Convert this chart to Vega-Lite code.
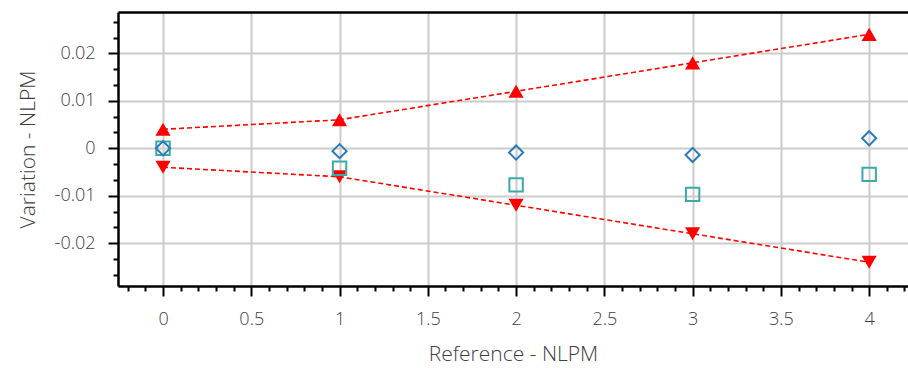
{
  "$schema": "https://vega.github.io/schema/vega-lite/v6.json",
  "width": 790,
  "height": 274,
  "autosize": {"type": "none"},
  "padding": {"left": 118, "top": 12, "right": 0, "bottom": 82},
  "config": {
    "view": {"stroke": null},
    "font": "Open Sans",
    "axis": {
      "labelFont": "Open Sans",
      "titleFont": "Open Sans",
      "labelColor": "#404040",
      "titleColor": "#404040",
      "labelFontSize": 18,
      "titleFontSize": 21,
      "labelFontWeight": 300,
      "titleFontWeight": 300
    }
  },
  "data": {
    "values": [
      {"x": 0, "y": 0.004, "s": "up"},
      {"x": 1, "y": 0.006, "s": "up"},
      {"x": 2, "y": 0.012, "s": "up"},
      {"x": 3, "y": 0.018, "s": "up"},
      {"x": 4, "y": 0.024, "s": "up"},
      {"x": 0, "y": -0.004, "s": "down"},
      {"x": 1, "y": -0.006, "s": "down"},
      {"x": 2, "y": -0.012, "s": "down"},
      {"x": 3, "y": -0.018, "s": "down"},
      {"x": 4, "y": -0.024, "s": "down"},
      {"x": 0, "y": 0.0, "s": "diamond"},
      {"x": 1, "y": -0.0006, "s": "diamond"},
      {"x": 2, "y": -0.0009, "s": "diamond"},
      {"x": 3, "y": -0.0014, "s": "diamond"},
      {"x": 4, "y": 0.0021, "s": "diamond"},
      {"x": 0, "y": 0.0, "s": "square"},
      {"x": 1, "y": -0.0042, "s": "square"},
      {"x": 2, "y": -0.0077, "s": "square"},
      {"x": 3, "y": -0.0097, "s": "square"},
      {"x": 4, "y": -0.0055, "s": "square"}
    ]
  },
  "layer": [
    {
      "transform": [{"filter": "datum.s === 'up' || datum.s === 'down'"}],
      "mark": {"type": "line", "color": "#ff0000", "strokeWidth": 1.6, "strokeDash": [5, 3]},
      "encoding": {
        "x": {
          "field": "x", "type": "quantitative",
          "scale": {"domain": [-0.255, 4.22], "nice": false, "zero": false},
          "axis": {
            "orient": "bottom",
            "values": [0, 0.5, 1, 1.5, 2, 2.5, 3, 3.5, 4],
            "labelExpr": "format(datum.value, '~g')",
            "grid": true, "gridColor": "#cccccc", "gridWidth": 2,
            "domainColor": "#000000", "domainWidth": 2.5,
            "tickColor": "#000000", "tickWidth": 2, "tickSize": 10,
            "labelPadding": 14,
            "title": "Reference - NLPM", "titlePadding": 15
          }
        },
        "y": {
          "field": "y", "type": "quantitative",
          "scale": {"domain": [-0.029, 0.0287], "nice": false, "zero": false},
          "axis": {
            "orient": "left",
            "values": [-0.02, -0.01, 0, 0.01, 0.02],
            "labelExpr": "replace(format(datum.value, '~g'), '\u2212', '-')",
            "grid": true, "gridColor": "#cccccc", "gridWidth": 2,
            "domainColor": "#000000", "domainWidth": 2.5,
            "tickColor": "#000000", "tickWidth": 2, "tickSize": 10,
            "labelPadding": 13,
            "title": "Variation - NLPM", "titlePadding": 16
          }
        },
        "detail": {"field": "s"}
      }
    },
    {
      "transform": [{"filter": "datum.s === 'up'"}],
      "mark": {"type": "point", "shape": "triangle-up", "filled": true, "color": "#ff0000", "size": 230, "opacity": 1},
      "encoding": {
        "x": {
          "field": "x", "type": "quantitative",
          "axis": {
            "orient": "bottom",
            "values": [-0.2, -0.1, 0.1, 0.2, 0.3, 0.4, 0.6, 0.7, 0.8, 0.9, 1.1, 1.2, 1.3, 1.4, 1.6, 1.7, 1.8, 1.9, 2.1, 2.2, 2.3, 2.4, 2.6, 2.7, 2.8, 2.9, 3.1, 3.2, 3.3, 3.4, 3.6, 3.7, 3.8, 3.9, 4.1, 4.2],
            "labels": false, "domain": false, "grid": false,
            "tickColor": "#000000", "tickWidth": 2, "tickSize": 5,
            "title": null
          }
        },
        "y": {
          "field": "y", "type": "quantitative",
          "axis": {
            "orient": "left",
            "values": [-0.02667, -0.02333, -0.01667, -0.01333, -0.00667, -0.00333, 0.00333, 0.00667, 0.01333, 0.01667, 0.02333, 0.02667],
            "labels": false, "domain": false, "grid": false,
            "tickColor": "#000000", "tickWidth": 2, "tickSize": 5,
            "title": null
          }
        }
      }
    },
    {
      "transform": [{"filter": "datum.s === 'down'"}],
      "mark": {"type": "point", "shape": "triangle-down", "filled": true, "color": "#ff0000", "size": 230, "opacity": 1},
      "encoding": {
        "x": {
          "field": "x", "type": "quantitative",
          "axis": {
            "orient": "top",
            "labels": false, "ticks": false, "grid": false,
            "domainColor": "#000000", "domainWidth": 2.5,
            "title": null
          }
        },
        "y": {"field": "y", "type": "quantitative", "axis": null}
      }
    },
    {
      "transform": [{"filter": "datum.s === 'square'"}],
      "mark": {"type": "point", "shape": "square", "filled": false, "color": "#3aaaa8", "strokeWidth": 2, "size": 180, "opacity": 1},
      "encoding": {
        "x": {"field": "x", "type": "quantitative", "axis": null},
        "y": {"field": "y", "type": "quantitative", "axis": null}
      }
    },
    {
      "transform": [{"filter": "datum.s === 'diamond'"}],
      "mark": {"type": "point", "shape": "diamond", "filled": false, "color": "#2b7bba", "strokeWidth": 2, "size": 200, "opacity": 1},
      "encoding": {
        "x": {"field": "x", "type": "quantitative", "axis": null},
        "y": {"field": "y", "type": "quantitative", "axis": null}
      }
    }
  ],
  "resolve": {"axis": {"x": "independent", "y": "independent"}}
}
